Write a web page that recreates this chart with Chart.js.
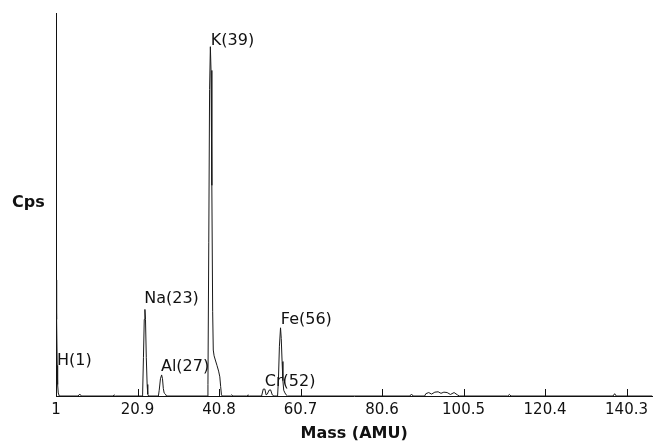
<!DOCTYPE html>
<html>
<head>
<meta charset="utf-8">
<script src="https://cdn.jsdelivr.net/npm/chart.js@4.4.1/dist/chart.umd.min.js"></script>
<style>
  html, body { margin: 0; padding: 0; background: #ffffff; }
  #wrap { width: 653px; height: 443px; }
</style>
</head>
<body>
<div id="wrap"><canvas id="c" width="653" height="443"></canvas></div>
<script>
// ---- data ----
const masses = [
  1.0, 1.1, 1.2, 1.3, 1.4, 1.55, 1.8,
  6.4, 6.8, 7.2,
  14.9, 15.2, 15.5,
  22.0, 22.15, 22.35, 22.55, 22.71, 22.85, 23.05, 23.25, 23.4, 23.6,
  26.0, 26.2, 26.5, 26.79, 27.0, 27.2, 27.4, 27.7, 28.0,
  37.9, 38.1, 38.3, 38.5, 38.69, 38.85, 39.05, 39.25, 39.4, 39.6, 39.9, 40.3, 40.7, 41.0, 41.2, 41.4, 41.6,
  43.6, 43.9, 44.2,
  47.6, 47.9, 48.2,
  51.2, 51.6, 52.0, 52.3, 52.6, 53.0, 53.4, 53.8, 54.2,
  55.1, 55.3, 55.55, 55.82, 56.0, 56.2, 56.4, 56.6, 56.9, 57.2, 57.5,
  87.4, 87.8, 88.2,
  91.0, 91.3, 92.0, 92.7, 93.5, 94.3, 95.0, 95.7, 96.5, 97.3, 98.2, 99.0, 99.5,
  111.3, 111.7, 112.1,
  137.0, 137.4, 137.8,
  146.6
];
const cps = [
  30.3, 29, 20, 8, 3, 0.8, 0,
  0, 0.5, 0,
  0, 0.3, 0,
  0, 0.5, 10, 20, 22.6, 20, 10, 3, 0.5, 0,
  0, 1.5, 4.5, 5.5, 4.5, 2, 0.8, 0.5, 0,
  0, 3, 40, 80, 91.2, 85, 55, 22, 12, 10.5, 9.4, 8, 6.5, 5, 2.5, 0.3, 0,
  0, 0.3, 0,
  0, 0.3, 0,
  0, 1.8, 1.8, 0.3, 0.5, 1.5, 1.6, 0.3, 0,
  0, 4, 13, 17.8, 15, 9, 4, 1.5, 0.8, 0.3, 0,
  0, 0.5, 0,
  0, 0.6, 0.9, 0.5, 1.0, 1.1, 0.7, 1.0, 0.9, 0.4, 0.9, 0.3, 0,
  0, 0.4, 0,
  0, 0.6, 0,
  0
];
const tickValues = [1, 20.9, 40.8, 60.7, 80.6, 100.5, 120.4, 140.3];
const peakLabels = ['H(1)', 'Na(23)', 'Al(27)', 'K(39)', 'Cr(52)', 'Fe(56)'];
const labelMass  = [1.24, 22.54, 26.62, 38.81, 51.99, 55.89];
const labelCps   = [8.0, 24.3, 6.4, 91.6, 2.7, 18.9];

const FONT = '"DejaVu Sans", "Liberation Sans", Arial, sans-serif';

const overlay = {
  id: 'overlay',
  afterDraw(chart) {
    const {ctx, chartArea, scales: {x, y}} = chart;
    ctx.save();
    // inward tick marks on the mass axis
    ctx.strokeStyle = '#111';
    ctx.lineWidth = 1;
    x.ticks.forEach(t => {
      const px = Math.round(x.getPixelForValue(t.value)) + 0.5;
      ctx.beginPath();
      ctx.moveTo(px, chartArea.bottom);
      ctx.lineTo(px, chartArea.bottom - 7);
      ctx.stroke();
    });
    // peak labels
    ctx.fillStyle = '#111';
    ctx.font = '16px ' + FONT;
    ctx.textAlign = 'left';
    ctx.textBaseline = 'alphabetic';
    peakLabels.forEach((s, i) => {
      ctx.fillText(s, x.getPixelForValue(labelMass[i]), y.getPixelForValue(labelCps[i]));
    });
    // y-axis title (horizontal)
    ctx.font = 'bold 16px ' + FONT;
    ctx.textBaseline = 'middle';
    ctx.fillText('Cps', 12, (chartArea.top + chartArea.bottom) / 2 - 2);
    ctx.restore();
  }
};

new Chart(document.getElementById('c'), {
  type: 'line',
  data: {
    datasets: [{
      data: masses.map((m, i) => ({x: m, y: cps[i]})),
      borderColor: '#1a1a1a',
      borderWidth: 1,
      pointRadius: 0,
      tension: 0,
      fill: false
    }]
  },
  options: {
    responsive: false,
    animation: false,
    layout: {padding: {top: 13, right: 0, left: 0, bottom: 0}},
    plugins: {legend: {display: false}, tooltip: {enabled: false}},
    scales: {
      x: {
        type: 'linear',
        min: 1,
        max: 146.6,
        afterBuildTicks: (s) => { s.ticks = tickValues.map(v => ({value: v})); },
        afterFit: (s) => { s.height = 47; },
        grid: {display: false, drawTicks: false},
        border: {display: true, color: '#111', width: 1},
        ticks: {
          padding: 5,
          color: '#111',
          font: {family: FONT, size: 15},
          maxRotation: 0,
          autoSkip: false,
          callback: (v) => String(v)
        },
        title: {
          display: true,
          text: 'Mass (AMU)',
          color: '#111',
          font: {family: FONT, size: 16, weight: 'bold'},
          padding: {top: 0, bottom: 0}
        }
      },
      y: {
        min: 0,
        max: 100,
        afterFit: (s) => { s.width = 56; },
        grid: {display: false, drawTicks: false},
        border: {display: true, color: '#111', width: 1},
        ticks: {display: false}
      }
    }
  },
  plugins: [overlay]
});
</script>
</body>
</html>
